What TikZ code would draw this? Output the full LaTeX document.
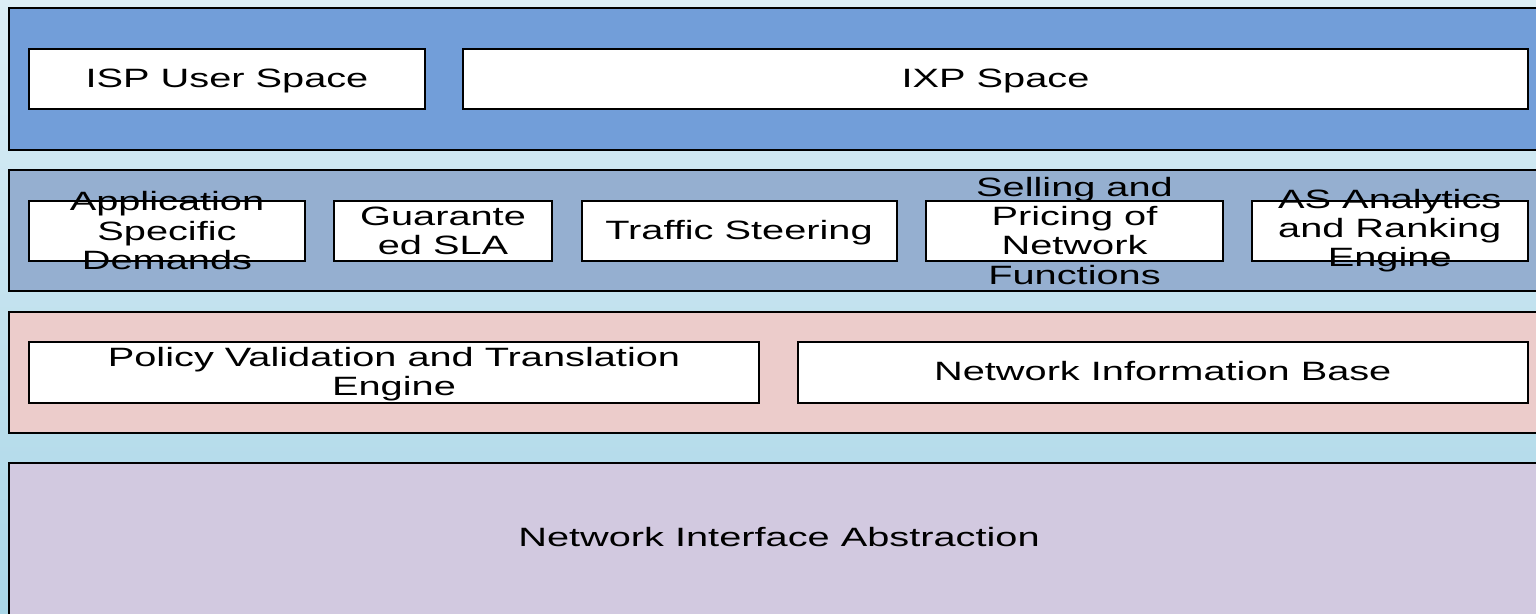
\documentclass[tikz,border=0pt]{standalone}
\usepackage{fontspec}
\setmainfont{Liberation Sans}[FakeStretch=1.5]
\definecolor{bgtop}{HTML}{DCEEF6}
\definecolor{bgbot}{HTML}{A9D6E7}
\definecolor{layA}{HTML}{729ED9}
\definecolor{layB}{HTML}{95AFD0}
\definecolor{layC}{HTML}{ECCCCB}
\definecolor{layD}{HTML}{D2C9E0}
\begin{document}
\begin{tikzpicture}[x=1pt,y=-1pt,
  layer/.style={draw=black, line width=2pt, rectangle, inner sep=0pt, minimum width=1540pt},
  box/.style={draw=black, fill=white, line width=2pt, rectangle, inner sep=0pt, minimum height=60.5pt},
  txt/.style={font=\fontsize{26.5}{29.3}\selectfont, align=center, inner sep=0pt, text=black},
  oneline/.style={txt, text height=22pt, text depth=5.4pt},
]
\useasboundingbox (0,0) rectangle (1536,613);
\shade[top color=bgtop, bottom color=bgbot] (0,0) rectangle (1536,613);

% layers
\node[layer, fill=layA, minimum height=142pt] (l1) at (779,79) {};
\node[layer, fill=layB, minimum height=121pt] (l2) at (779,230.75) {};
\node[layer, fill=layC, minimum height=121pt] (l3) at (779,372.5) {};
\node[layer, fill=layD, minimum height=162pt,
      label={[oneline, yshift=6pt]center:Network Interface Abstraction}] (l4) at (779,544) {};

% top layer boxes
\node[box, minimum width=396pt, label={[oneline]center:ISP User Space}] (isp) at (227,79) {};
\node[box, minimum width=1065pt, label={[oneline]center:IXP Space}] (ixp) at (995.5,79) {};

% second layer boxes
\node[box, minimum width=276pt, label={[txt]center:Application\\Specific\\Demands}] (app) at (167,230.75) {};
\node[box, minimum width=218pt, label={[txt]center:Guarante\\ed SLA}] (gua) at (443,230.75) {};
\node[box, minimum width=315pt, label={[oneline]center:Traffic Steering}] (tra) at (739,230.75) {};
\node[box, minimum width=297pt, label={[txt]center:Selling and\\Pricing of\\Network\\Functions}] (sel) at (1074.5,230.75) {};
\node[box, minimum width=276.5pt, label={[txt]center:AS Analytics\\and Ranking\\Engine}] (asa) at (1389.75,230.75) {};

% third layer boxes
\node[box, minimum width=730pt, label={[txt, yshift=-1.5pt]center:Policy Validation and Translation\\Engine}] (pol) at (394,372.6) {};
\node[box, minimum width=730.5pt, label={[oneline]center:Network Information Base}] (nib) at (1162.75,372.6) {};
\end{tikzpicture}
\end{document}
